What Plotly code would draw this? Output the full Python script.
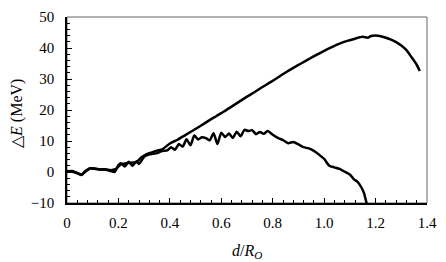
import plotly.graph_objects as go

# Upper curve (d/R_o, ΔE in MeV)
upper_x = [0, 0.02, 0.04, 0.056, 0.07, 0.09, 0.11, 0.13, 0.15, 0.17, 0.19, 0.21, 0.23, 0.25, 0.27,
           0.29, 0.31, 0.33, 0.35, 0.37, 0.40, 0.43, 0.46, 0.49, 0.52, 0.55, 0.58, 0.61, 0.64, 0.67,
           0.70, 0.73, 0.76, 0.79, 0.82, 0.85, 0.88, 0.91, 0.94, 0.97, 1.00, 1.03, 1.06, 1.09, 1.12,
           1.15, 1.17, 1.18, 1.20, 1.22, 1.24, 1.26, 1.28, 1.30, 1.32, 1.34, 1.36, 1.372]
upper_y = [0.2, 0.3, -0.3, -0.8, 0.2, 1.2, 1.1, 0.8, 0.9, 0.6, 1.0, 2.5, 2.8, 3.0, 3.2,
           4.8, 5.8, 6.3, 6.9, 7.3, 9.2, 10.4, 11.9, 13.4, 14.9, 16.5, 18.0, 19.5, 21.1, 22.7,
           24.3, 25.8, 27.4, 28.9, 30.5, 32.1, 33.6, 35.0, 36.4, 37.8, 39.1, 40.3, 41.4, 42.3, 43.0,
           43.6, 43.3, 43.8, 44.0, 43.8, 43.3, 42.7, 41.9, 40.8, 39.3, 37.0, 34.6, 32.6]

# Lower curve
lower_x = [0, 0.02, 0.04, 0.056, 0.07, 0.09, 0.11, 0.13, 0.15, 0.17, 0.185, 0.20, 0.21, 0.225, 0.24,
           0.255, 0.27, 0.28, 0.30, 0.318, 0.335, 0.35, 0.37, 0.39, 0.405, 0.42, 0.435, 0.45, 0.465,
           0.48, 0.495, 0.51, 0.525, 0.54, 0.555, 0.57, 0.585, 0.60, 0.615, 0.63, 0.645, 0.66, 0.675,
           0.69, 0.705, 0.72, 0.735, 0.75, 0.765, 0.78, 0.80, 0.82, 0.84, 0.86, 0.88, 0.90, 0.92,
           0.94, 0.96, 0.98, 1.00, 1.02, 1.04, 1.06, 1.08, 1.10, 1.115, 1.13, 1.145, 1.155, 1.165, 1.17]
lower_y = [0.2, 0.1, -0.4, -1.0, 0.0, 1.1, 1.0, 0.8, 0.7, 0.3, 0.0, 2.2, 2.8, 1.8, 3.3,
           2.0, 3.5, 2.6, 4.9, 5.6, 5.9, 6.1, 6.8, 7.0, 8.0, 7.2, 9.0, 8.2, 10.6,
           8.6, 11.8, 10.5, 11.2, 10.9, 10.2, 12.5, 9.0, 12.7, 11.3, 12.4, 11.0, 13.0, 11.5,
           13.6, 13.2, 13.5, 12.2, 12.9, 12.3, 13.2, 12.0, 11.0, 10.3, 9.3, 9.7, 8.9, 8.0,
           7.6, 6.8, 5.6, 4.2, 2.0, 1.5, 1.0, 0.1, -0.8, -2.3, -3.2, -5.0, -6.8, -10.0, -11.0]

x_tickvals = [0, 0.2, 0.4, 0.6, 0.8, 1.0, 1.2, 1.4]
x_ticktext = ["0", "0.2", "0.4", "0.6", "0.8", "1.0", "1.2", "1.4"]
y_tickvals = [-10, 0, 10, 20, 30, 40, 50]

font_family = "Liberation Serif, Times New Roman, serif"

fig = go.Figure()
for xs, ys in [(upper_x, upper_y), (lower_x, lower_y)]:
    fig.add_trace(go.Scatter(x=xs, y=ys, mode="lines",
                             line=dict(color="black", width=2.5, shape="spline", smoothing=0.6),
                             showlegend=False))

# gray frame (top/right)
fig.add_shape(type="rect", xref="paper", yref="paper", x0=0, y0=0, x1=1, y1=1,
              line=dict(color="#666666", width=1), layer="below")

fig.update_layout(
    width=446, height=262,
    margin=dict(l=67, r=11, t=9, b=59),
    paper_bgcolor="white", plot_bgcolor="white",
    font=dict(family=font_family, size=15, color="black"),
    xaxis=dict(range=[0, 1.4], tickvals=x_tickvals, ticktext=x_ticktext,
               ticks="inside", ticklen=5, tickwidth=1, tickcolor="black",
               minor=dict(dtick=0.04, ticks="inside", ticklen=3, tickcolor="black"),
               showline=True, linecolor="black", linewidth=1.5,
               showgrid=False, zeroline=False, ticklabelstandoff=5),
    yaxis=dict(range=[-10, 50], tickvals=y_tickvals,
               ticks="inside", ticklen=5, tickwidth=1, tickcolor="black",
               minor=dict(dtick=2, ticks="inside", ticklen=3, tickcolor="black"),
               showline=True, linecolor="black", linewidth=1.5,
               showgrid=False, zeroline=False, ticklabelstandoff=8),
    annotations=[
        dict(text="△<i>E</i> (MeV)", xref="paper", yref="paper",
             x=-0.141, y=0.48, xanchor="center", yanchor="middle",
             textangle=-90, showarrow=False, font=dict(size=16)),
        dict(text="<i>d</i>/<i>R</i><sub><i>O</i></sub>", xref="paper", yref="paper",
             x=0.5, y=-0.26, xanchor="center", yanchor="middle",
             showarrow=False, font=dict(size=16)),
    ],
)

fig.write_html("out.html")
